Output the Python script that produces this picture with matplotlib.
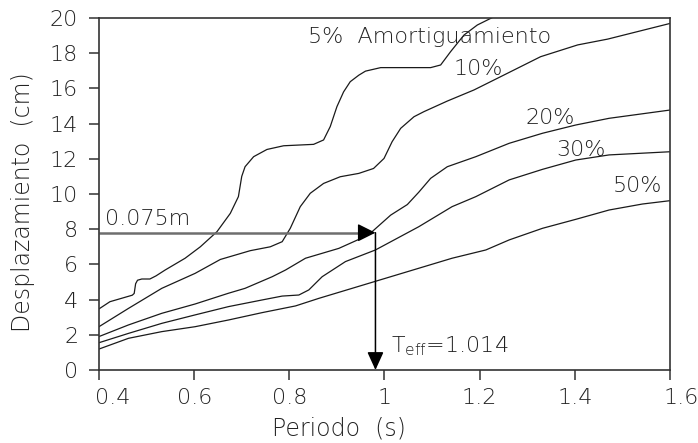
import matplotlib.pyplot as plt
import matplotlib.transforms as mtransforms

# Espectro de desplazamientos para distintos amortiguamientos
T_5 = [0.400, 0.423, 0.470, 0.474, 0.477, 0.481, 0.490, 0.507, 0.520, 0.539, 0.581, 0.613,
       0.648, 0.676, 0.693, 0.700, 0.707, 0.725, 0.753, 0.788, 0.851, 0.872, 0.886, 0.900,
       0.914, 0.928, 0.946, 0.960, 0.992, 1.055, 1.097, 1.118, 1.139, 1.167, 1.195, 1.230]
D_5 = [3.47, 3.88, 4.25, 4.35, 4.90, 5.10, 5.17, 5.17, 5.35, 5.68, 6.35, 7.00,
       7.86, 8.90, 9.85, 11.00, 11.55, 12.12, 12.53, 12.74, 12.82, 13.07, 13.83, 14.96,
       15.80, 16.38, 16.75, 16.98, 17.18, 17.18, 17.18, 17.33, 18.09, 19.03, 19.60, 20.07]

T_10 = [0.400, 0.462, 0.532, 0.602, 0.655, 0.718, 0.760, 0.785, 0.802, 0.823, 0.844, 0.872,
        0.907, 0.946, 0.977, 0.999, 1.016, 1.034, 1.062, 1.083, 1.132, 1.188, 1.237, 1.328,
        1.406, 1.469, 1.600]
D_10 = [2.46, 3.50, 4.64, 5.49, 6.28, 6.78, 7.00, 7.29, 8.05, 9.28, 10.04, 10.60,
        10.98, 11.17, 11.45, 12.02, 12.97, 13.73, 14.39, 14.68, 15.28, 15.91, 16.57, 17.80,
        18.47, 18.80, 19.69]

T_20 = [0.400, 0.462, 0.532, 0.602, 0.672, 0.707, 0.764, 0.792, 0.834, 0.904, 0.946, 0.974,
        1.013, 1.048, 1.072, 1.097, 1.132, 1.192, 1.262, 1.332, 1.402, 1.472, 1.600]
D_20 = [1.90, 2.56, 3.22, 3.75, 4.36, 4.64, 5.30, 5.68, 6.35, 6.91, 7.42, 7.86,
        8.80, 9.40, 10.10, 10.89, 11.55, 12.12, 12.88, 13.45, 13.92, 14.30, 14.77]

T_30 = [0.400, 0.462, 0.532, 0.602, 0.672, 0.743, 0.785, 0.820, 0.841, 0.869, 0.918, 0.981,
        1.072, 1.142, 1.192, 1.262, 1.332, 1.402, 1.472, 1.600]
D_30 = [1.55, 2.08, 2.65, 3.13, 3.60, 3.98, 4.20, 4.26, 4.55, 5.30, 6.16, 6.82,
        8.14, 9.28, 9.85, 10.80, 11.40, 11.93, 12.22, 12.40]

T_50 = [0.400, 0.462, 0.532, 0.602, 0.672, 0.743, 0.813, 0.862, 0.932, 1.002, 1.072, 1.142,
        1.213, 1.262, 1.332, 1.402, 1.472, 1.542, 1.600]
D_50 = [1.19, 1.80, 2.18, 2.46, 2.84, 3.26, 3.64, 4.07, 4.64, 5.21, 5.78, 6.35,
        6.82, 7.39, 8.05, 8.56, 9.09, 9.43, 9.62]

# Punto de diseño
D_obj = 7.8
T_eff = 0.981

x_ticks = [0.4, 0.6, 0.8, 1.0, 1.2, 1.4, 1.6]
x_labels = ["0.4", "0.6", "0.8", "1", "1.2", "1.4", "1.6"]
y_ticks = list(range(0, 21, 2))

plt.rcParams['font.family'] = ['DejaVu Sans']
plt.rcParams['font.weight'] = 'light'
plt.rcParams['axes.labelweight'] = 'light'
fig = plt.figure(figsize=(6.98, 4.43), dpi=100)
ax = fig.add_axes([0.1418, 0.1648, 0.8181, 0.7946])

c = '#1a1a1a'
for T, D in [(T_5, D_5), (T_10, D_10), (T_20, D_20), (T_30, D_30), (T_50, D_50)]:
    ax.plot(T, D, color=c, lw=0.9)

# Flechas
ax.plot([0.4, T_eff - 0.02], [D_obj, D_obj], color='#6e6e6e', lw=1.8, solid_capstyle='butt')
ax.annotate('', xy=(T_eff, D_obj), xytext=(T_eff - 0.035, D_obj),
            arrowprops=dict(arrowstyle='-|>,head_length=1.1,head_width=0.55',
                            mutation_scale=10, color='black', lw=1, shrinkA=0, shrinkB=0))
ax.annotate('', xy=(T_eff, 0), xytext=(T_eff, D_obj),
            arrowprops=dict(arrowstyle='-|>,head_length=1.1,head_width=0.5',
                            mutation_scale=10, color='black', lw=1.1, shrinkA=0, shrinkB=0))

# Textos
tc = '#222222'
fs = 16
ax.text(0.84, 18.9, "5%  Amortiguamiento", fontsize=fs, color=tc, va='center', ha='left')
ax.text(1.198, 17.1, "10%", fontsize=fs, color=tc, va='center', ha='center')
ax.text(1.349, 14.3, "20%", fontsize=fs, color=tc, va='center', ha='center')
ax.text(1.413, 12.5, "30%", fontsize=fs, color=tc, va='center', ha='center')
ax.text(1.531, 10.45, "50%", fontsize=fs, color=tc, va='center', ha='center')
ax.text(0.413, 8.58, "0.075m", fontsize=fs, color=tc, va='center', ha='left')
ax.text(1.013, 1.0, r"T$_{\mathregular{eff}}$=1.014", fontsize=fs, color=tc,
        va='baseline', ha='left')

ax.set_xlim(0.4, 1.6)
ax.set_ylim(0, 20)
ax.set_xticks(x_ticks)
ax.set_xticklabels(x_labels)
ax.set_yticks(y_ticks)

for s in ax.spines.values():
    s.set_color('#333333')
    s.set_linewidth(1.2)
ax.tick_params(direction='out', length=7, width=1.1, color='#333333',
               labelsize=16, labelcolor=tc)
ax.tick_params(axis='x', pad=6)
ax.tick_params(axis='y', pad=8)

# desplazar las etiquetas de los extremos como en el original
labs = ax.get_xticklabels()
labs[0].set_transform(labs[0].get_transform() +
                      mtransforms.ScaledTranslation(0.14, 0, fig.dpi_scale_trans))
labs[-1].set_transform(labs[-1].get_transform() +
                       mtransforms.ScaledTranslation(0.11, 0, fig.dpi_scale_trans))

ax.set_xlabel("Periodo  (s)", fontsize=17, color=tc, fontweight='light')
ax.set_ylabel("Desplazamiento  (cm)", fontsize=17, color=tc, fontweight='light')
ax.xaxis.set_label_coords(0.421, -0.133)
ax.yaxis.set_label_coords(-0.112, 0.476)

fig.savefig("out.png", dpi=100)
